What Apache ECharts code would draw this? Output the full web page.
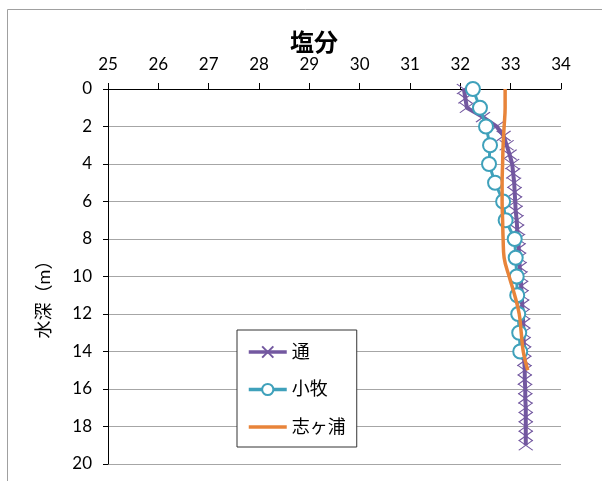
<!DOCTYPE html>
<html>
<head>
<meta charset="utf-8">
<script src="https://cdn.jsdelivr.net/npm/echarts@6/dist/echarts.min.js"></script>
<style>
html,body{margin:0;padding:0;background:#fff;}
#c{width:602px;height:481px;}
</style>
</head>
<body>
<div id="c"></div>
<script>
// ---- data ----
var xTicks = [25, 26, 27, 28, 29, 30, 31, 32, 33, 34];
var yTicks = [0, 2, 4, 6, 8, 10, 12, 14, 16, 18, 20];

var depthTori = [0, 0.5, 1, 1.5, 2, 2.5, 3, 3.5, 4, 4.5, 5, 5.5, 6, 6.5, 7, 7.5, 8, 8.5, 9, 9.5,
  10, 10.5, 11, 11.5, 12, 12.5, 13, 13.5, 14, 14.5, 15, 15.5, 16, 16.5, 17, 17.5, 18, 18.5, 19];
var saltTori = [32.07, 32.10, 32.13, 32.45, 32.72, 32.86, 32.92, 32.98, 33.03, 33.05, 33.07, 33.08,
  33.09, 33.10, 33.12, 33.13, 33.15, 33.16, 33.17, 33.18, 33.20, 33.21, 33.22, 33.23, 33.24, 33.25,
  33.25, 33.26, 33.27, 33.27, 33.28, 33.28, 33.29, 33.29, 33.30, 33.30, 33.30, 33.30, 33.30];

var depthKomaki = [0, 1, 2, 3, 4, 5, 6, 7, 8, 9, 10, 11, 12, 13, 14];
var saltKomaki = [32.25, 32.39, 32.51, 32.59, 32.57, 32.69, 32.85, 32.90, 33.08, 33.10, 33.12, 33.13, 33.15, 33.17, 33.19];

var depthShigaura = [0, 1, 2, 3, 4, 5, 6, 7, 8, 9, 10, 11, 12, 13, 14, 15];
var saltShigaura = [32.89, 32.89, 32.87, 32.85, 32.84, 32.83, 32.83, 32.84, 32.85, 32.87, 32.97, 33.08, 33.17, 33.21, 33.25, 33.34];

var seriesNames = ['通', '小牧', '志ヶ浦'];
var titleText = '塩分';
var yName = '水深（m）';

function pairs(xs, ys) { return xs.map(function (v, i) { return [v, ys[i]]; }); }

var C_PURPLE = '#7358a0';
var C_TEAL = '#3fa1bb';
var C_ORANGE = '#e8843a';
var FONT = 'Lato, "Noto Sans CJK JP", sans-serif';
var crossPath = 'path://M0,0L10,10M10,0L0,10';

var chart = echarts.init(document.getElementById('c'), null, {renderer: 'canvas'});
chart.setOption({
  animation: false,
  backgroundColor: '#fff',
  textStyle: {fontFamily: FONT},
  title: {
    text: titleText,
    left: 309, top: 26,
    textAlign: 'center',
    textStyle: {fontSize: 24, fontWeight: 'bold', color: '#000', fontFamily: FONT}
  },
  graphic: [
    {type: 'rect', silent: true, z: 0,
     shape: {x: 7.5, y: 9.5, width: 700, height: 600},
     style: {fill: 'none', stroke: '#a0a0a0', lineWidth: 1}},
    {type: 'text', silent: true, x: 44, y: 295, rotation: Math.PI / 2,
     style: {text: yName, fontSize: 18, fontFamily: FONT, fill: '#000', align: 'center', verticalAlign: 'middle'}}
  ],
  grid: {left: 108, right: 41, top: 89, bottom: 17, containLabel: false},
  legend: {
    orient: 'vertical',
    left: 237, top: 330,
    padding: [12, 11, 10, 10],
    itemWidth: 38, itemHeight: 14, itemGap: 17.5,
    backgroundColor: '#fff',
    borderColor: '#333', borderWidth: 1,
    textStyle: {fontSize: 18, color: '#000', fontFamily: FONT, lineHeight: 20},
    lineStyle: {width: 3.5},
    data: [
      {name: seriesNames[0]},
      {name: seriesNames[1]},
      {name: seriesNames[2], icon: 'path://M0,0L38,0L38,3.5L0,3.5Z'}
    ]
  },
  xAxis: {
    type: 'value', position: 'top', min: xTicks[0], max: xTicks[xTicks.length - 1], interval: 1,
    axisLine: {show: true, onZero: false, lineStyle: {color: '#000', width: 1}},
    axisTick: {show: true, length: 6, lineStyle: {color: '#000'}},
    axisLabel: {fontSize: 17, color: '#000', margin: 16, fontFamily: FONT},
    splitLine: {show: false}
  },
  yAxis: {
    type: 'value', inverse: true, min: yTicks[0], max: yTicks[yTicks.length - 1], interval: 2,
    axisLine: {show: true, onZero: false, lineStyle: {color: '#000', width: 1}},
    axisTick: {show: true, length: 5, lineStyle: {color: '#000'}},
    axisLabel: {fontSize: 17, color: '#000', margin: 16, fontFamily: FONT},
    splitLine: {show: true, lineStyle: {color: '#a6a6a6', width: 1.2}}
  },
  series: [
    {
      name: seriesNames[0], type: 'line', z: 2,
      data: pairs(saltTori, depthTori),
      symbol: crossPath, symbolSize: [14, 10],
      lineStyle: {color: C_PURPLE, width: 4},
      itemStyle: {color: C_PURPLE, borderColor: C_PURPLE, borderWidth: 1.2}
    },
    {
      name: seriesNames[1], type: 'line', z: 3,
      data: pairs(saltKomaki, depthKomaki),
      symbol: 'emptyCircle', symbolSize: 14,
      lineStyle: {color: C_TEAL, width: 3},
      itemStyle: {color: C_TEAL, borderColor: C_TEAL, borderWidth: 1.5}
    },
    {
      name: seriesNames[2], type: 'line', z: 4,
      data: pairs(saltShigaura, depthShigaura),
      symbol: 'none', smooth: 0.4,
      lineStyle: {color: C_ORANGE, width: 3.5},
      itemStyle: {color: C_ORANGE}
    }
  ]
});
</script>
</body>
</html>
